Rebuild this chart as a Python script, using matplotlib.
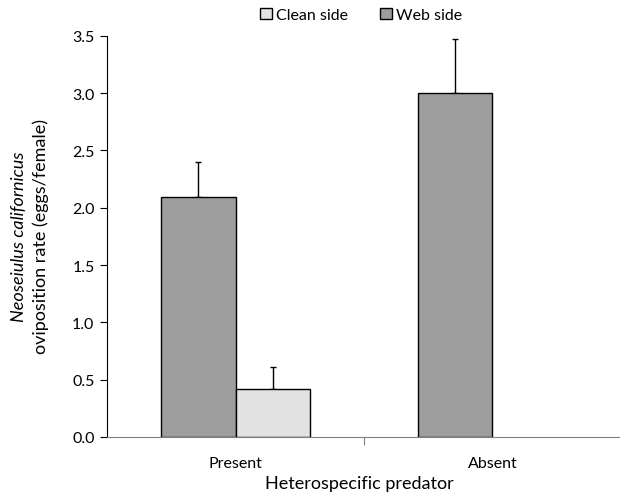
import numpy as np
import matplotlib
matplotlib.use('Agg')
import matplotlib.pyplot as plt
from matplotlib.patches import Patch

plt.rcParams['font.family'] = ['Lato', 'DejaVu Sans']

categories = ['Present', 'Absent']
clean_side = [0.42, 0.0]
clean_err = [0.19, 0.0]
web_side = [2.09, 3.0]
web_err = [0.31, 0.47]

web_color = '#9d9d9d'
clean_color = '#e2e2e2'

fig = plt.figure(figsize=(6.2, 5.02), dpi=100)
ax = fig.add_axes([0.1726, 0.1275, 0.829, 0.799])

x = np.arange(len(categories))
w = 0.29


def draw_bars(pos, vals, errs, color):
    vals = np.array(vals)
    errs = np.array(errs)
    ax.bar(pos, vals, w, color=color,
           edgecolor=['black' if v > 0 else 'none' for v in vals],
           linewidth=1.0, zorder=2)
    keep = errs > 0
    ax.errorbar(pos[keep], vals[keep], yerr=[np.zeros(keep.sum()), errs[keep]],
                fmt='none', ecolor='black', elinewidth=1.0, capthick=1.0,
                capsize=2.5, zorder=1.5)


draw_bars(x - w / 2, web_side, web_err, web_color)
draw_bars(x + w / 2, clean_side, clean_err, clean_color)

ax.set_xlim(-0.5, 1.5)
ax.set_ylim(0, 3.5)
ax.set_yticks(np.arange(0, 3.51, 0.5))
ax.set_yticklabels(['%.1f' % v for v in np.arange(0, 3.51, 0.5)])
ax.set_xticks([0.5])
ax.set_xticklabels([''])
ax.tick_params(axis='x', direction='out', length=6, color='#7f7f7f')
ax.tick_params(axis='y', direction='out', length=5, labelsize=11.5, pad=4)
for i, c in enumerate(categories):
    ax.text(x[i], -0.165, c, ha='center', va='top', fontsize=11.5,
            transform=ax.transData)

ax.spines['top'].set_visible(False)
ax.spines['right'].set_visible(False)
ax.spines['bottom'].set_color('#7f7f7f')
ax.spines['left'].set_color('black')

fig.text(0.58, 0.02, 'Heterospecific predator', ha='center', va='bottom', fontsize=13)
fig.text(0.030, 0.528, 'Neoseiulus californicus', rotation=90, ha='center', va='center',
         fontsize=13, style='italic')
fig.text(0.066, 0.528, 'oviposition rate (eggs/female)', rotation=90, ha='center',
         va='center', fontsize=13)

handles = [Patch(facecolor=clean_color, edgecolor='black', linewidth=1.0, label='Clean side'),
           Patch(facecolor=web_color, edgecolor='black', linewidth=1.0, label='Web side')]
fig.legend(handles=handles, loc='center', bbox_to_anchor=(0.583, 0.968), ncol=2,
           frameon=False, fontsize=11.5, handlelength=0.7, handleheight=0.7,
           handletextpad=0.3, columnspacing=2.0)

fig.savefig('out.png', dpi=100)
